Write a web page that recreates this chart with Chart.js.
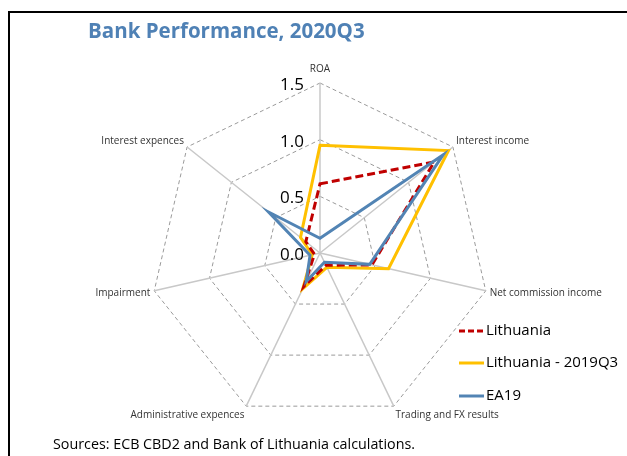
<!DOCTYPE html>
<html>
<head>
<meta charset="utf-8">
<script src="https://cdn.jsdelivr.net/npm/chart.js@4"></script>
<style>
    html, body { margin: 0; padding: 0; background: #fff; }
    #wrap { position: relative; width: 627px; height: 456px; overflow: hidden; }
    #frame {
        position: absolute; left: 8px; top: 11px; width: 700px; height: 500px;
        border-left: 2px solid #000; border-top: 2px solid #000; box-sizing: border-box;
    }
    #title {
        position: absolute; left: 88px; top: 16px;
        font: bold 20.5px "Open Sans", sans-serif; color: #4F81B5;
    }
    #source {
        position: absolute; left: 53px; top: 434px;
        font: 14.3px "Open Sans", sans-serif; color: #000;
    }
    canvas { position: absolute; left: 0; top: 0; }
</style>
</head>
<body>
<div id="wrap">
    <div id="frame"></div>
    <canvas id="radarChart" width="627" height="456"></canvas>
    <div id="title">Bank Performance, 2020Q3</div>
    <div id="source">Sources: ECB CBD2 and Bank of Lithuania calculations.</div>
</div>
<script>
// Data
const categories = ['ROA', 'Interest income', 'Net commission income', 'Trading and FX results',
    'Administrative expences', 'Impairment', 'Interest expences'];
const lithuania = [0.61, 1.29, 0.47, 0.12, 0.33, 0.05, 0.16];
const lithuania2019 = [0.95, 1.45, 0.62, 0.14, 0.35, 0.07, 0.22];
const ea19 = [0.13, 1.39, 0.45, 0.09, 0.28, 0.09, 0.58];
const tickValues = [0, 0.5, 1.0, 1.5];

// Tick labels drawn left of the vertical axis, point labels Excel-style, legend on the right
const decorPlugin = {
    id: 'decor',
    afterDraw(chart) {
        const ctx = chart.ctx;
        const scale = chart.scales.r;
        const R = scale.drawingArea;

        ctx.save();
        // tick labels
        ctx.font = '17px "Open Sans", sans-serif';
        ctx.fillStyle = '#000';
        ctx.textAlign = 'right';
        ctx.textBaseline = 'middle';
        tickValues.forEach(v => {
            const y = scale.yCenter - scale.getDistanceFromCenterForValue(v);
            ctx.fillText(v.toFixed(1), scale.xCenter - 16, y + 2);
        });

        // point labels
        ctx.font = '10px "Open Sans", sans-serif';
        ctx.fillStyle = '#333';
        categories.forEach((label, i) => {
            const pos = scale.getPointPosition(i, R + 4);
            const dx = pos.x - scale.xCenter;
            const dy = (pos.y - scale.yCenter) / (R + 4);
            if (Math.abs(dx) < 1) {
                ctx.textAlign = 'center';
                ctx.fillText(label, pos.x, pos.y - 10);
            } else {
                ctx.textAlign = dx > 0 ? 'left' : 'right';
                ctx.fillText(label, pos.x, pos.y + dy * 6);
            }
        });

        // legend
        const items = [
            { text: 'Lithuania', color: '#C00000', dash: [6, 3], y: 331 },
            { text: 'Lithuania - 2019Q3', color: '#FFC000', dash: [], y: 363 },
            { text: 'EA19', color: '#5284B4', dash: [], y: 396 }
        ];
        ctx.font = '15px "Open Sans", sans-serif';
        ctx.textAlign = 'left';
        items.forEach(item => {
            ctx.strokeStyle = item.color;
            ctx.lineWidth = 3;
            ctx.setLineDash(item.dash);
            ctx.beginPath();
            ctx.moveTo(459, item.y);
            ctx.lineTo(484, item.y);
            ctx.stroke();
            ctx.fillStyle = '#000';
            ctx.fillText(item.text, 486, item.y);
        });
        ctx.restore();
    }
};

const ctx = document.getElementById('radarChart').getContext('2d');
new Chart(ctx, {
    type: 'radar',
    data: {
        labels: categories,
        datasets: [
            {
                label: 'EA19',
                data: ea19,
                borderColor: '#5284B4',
                borderWidth: 3,
                fill: false,
                pointRadius: 0,
                order: 0
            },
            {
                label: 'Lithuania',
                data: lithuania,
                borderColor: '#C00000',
                borderWidth: 3,
                borderDash: [8, 4],
                fill: false,
                pointRadius: 0,
                order: 1
            },
            {
                label: 'Lithuania - 2019Q3',
                data: lithuania2019,
                borderColor: '#FFC000',
                borderWidth: 3,
                fill: false,
                pointRadius: 0,
                order: 2
            }
        ]
    },
    options: {
        responsive: false,
        animation: false,
        layout: { padding: { left: 150, right: 137, top: 83, bottom: 33 } },
        plugins: {
            legend: { display: false },
            tooltip: { enabled: false }
        },
        scales: {
            r: {
                min: 0,
                max: 1.5,
                ticks: { stepSize: 0.5, display: false },
                pointLabels: { display: false },
                grid: { color: '#9A9A9A', lineWidth: 1 },
                border: { dash: [4, 3] },
                angleLines: { color: '#C8C8C8', lineWidth: 1.5 }
            }
        }
    },
    plugins: [decorPlugin]
});
</script>
</body>
</html>
